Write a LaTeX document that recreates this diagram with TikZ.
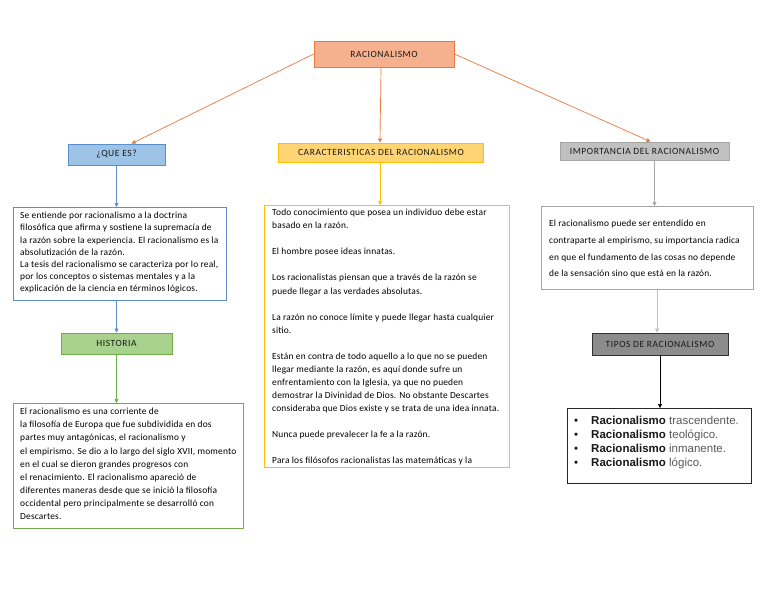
\documentclass[tikz,border=0pt]{standalone}
\usepackage{fontspec}
\setmainfont{Carlito}
\newfontfamily\labelfont[LetterSpace=6]{Carlito}
\newfontfamily\bodyfont[LetterSpace=2]{Carlito}
\newfontfamily\arialfont{Liberation Sans}
\usetikzlibrary{shapes,arrows.meta,positioning}

\definecolor{rootfill}{HTML}{F5B08E}
\definecolor{rootline}{HTML}{E8793F}
\definecolor{bluefill}{HTML}{9DC3E6}
\definecolor{blueline}{HTML}{5B8FCC}
\definecolor{goldfill}{HTML}{FFD473}
\definecolor{goldline}{HTML}{FFC000}
\definecolor{grayfill}{HTML}{C0C0C0}
\definecolor{grayline}{HTML}{A5A5A5}
\definecolor{greenfill}{HTML}{A9D18E}
\definecolor{greenline}{HTML}{70AD47}
\definecolor{darkfill}{HTML}{8C8C8C}
\definecolor{softtext}{HTML}{595959}

\tikzstyle{Title} = [draw, rectangle, inner sep=0pt, line width=0.8pt, text=black!90, font=\labelfont\fontsize{9.5}{11}\selectfont]
\tikzstyle{Frame} = [draw, rectangle, fill=white, anchor=north west, inner sep=0pt, line width=0.8pt]
\tikzstyle{Body}  = [anchor=north west, align=left, inner sep=0pt, text=black]
\tikzstyle{Link}  = [-{Triangle[length=4pt,width=4pt]}, line width=0.7pt]

\begin{document}
\begin{tikzpicture}[x=1pt,y=-1pt]
    \useasboundingbox (0,0) rectangle (768,594);

    % headings
    \node[Title, fill=rootfill,  draw=rootline,  minimum width=140pt, minimum height=26pt] (root)        at (384,54)      {RACIONALISMO};
    \node[Title, fill=bluefill,  draw=blueline,  minimum width=97pt,  minimum height=21pt] (quees)       at (116.5,154.5) {¿QUE ES?};
    \node[Title, fill=goldfill,  draw=goldline,  minimum width=205pt, minimum height=19pt] (carac)       at (381,152.5)   {CARACTERISTICAS DEL RACIONALISMO};
    \node[Title, fill=grayfill,  draw=grayline,  minimum width=169pt, minimum height=18pt] (importancia) at (644.5,151)   {IMPORTANCIA DEL RACIONALISMO};
    \node[Title, fill=greenfill, draw=greenline, minimum width=111pt, minimum height=21pt] (historia)    at (116.5,343.5) {HISTORIA};
    \node[Title, fill=darkfill,  draw=black!80,  minimum width=136pt, minimum height=22pt] (tipos)       at (660,344)     {TIPOS DE RACIONALISMO};

    % text frames
    \node[Frame, draw=blueline,  minimum width=213pt, minimum height=93pt]  (queesinfo)  at (13,207)  {};
    \node[Frame, draw=goldline,  minimum width=245pt, minimum height=262pt] (caracinfo)  at (264,205) {};
    \node[Frame, draw=grayline,  minimum width=212pt, minimum height=83pt]  (importinfo) at (541,206) {};
    \node[Frame, draw=greenline, minimum width=230pt, minimum height=125pt] (histinfo)   at (13,403)  {};
    \node[Frame, draw=black!85,  minimum width=184pt, minimum height=75pt]  (tiposinfo)  at (567,408) {};

    % texts
    \node[Body, font=\bodyfont\fontsize{9.4}{12.2}\selectfont] (queestext) at ([shift={(7,5)}]queesinfo.north west)
        {Se entiende por racionalismo a la doctrina\\
         filosófica que afirma y sostiene la supremacía de\\
         la razón sobre la experiencia. El racionalismo es la\\
         absolutización de la razón.\\
         La tesis del racionalismo se caracteriza por lo real,\\
         por los conceptos o sistemas mentales y a la\\
         explicación de la ciencia en términos lógicos.};

    \begin{scope}
        \clip ([shift={(1,1)}]caracinfo.north west) rectangle ([shift={(-1,-3)}]caracinfo.south east);
        \node[Body, font=\bodyfont\fontsize{9.4}{13.05}\selectfont] (caractext) at ([shift={(8,4)}]caracinfo.north west)
            {Todo conocimiento que posea un individuo debe estar\\
             basado en la razón.\\[13.05pt]
             El hombre posee ideas innatas.\\[13.05pt]
             Los racionalistas piensan que a través de la razón se\\
             puede llegar a las verdades absolutas.\\[13.05pt]
             La razón no conoce límite y puede llegar hasta cualquier\\
             sitio.\\[13.05pt]
             Están en contra de todo aquello a lo que no se pueden\\
             llegar mediante la razón, es aquí donde sufre un\\
             enfrentamiento con la Iglesia, ya que no pueden\\
             demostrar la Divinidad de Dios. No obstante Descartes\\
             consideraba que Dios existe y se trata de una idea innata.\\[13.05pt]
             Nunca puede prevalecer la fe a la razón.\\[13.05pt]
             Para los filósofos racionalistas las matemáticas y la};
    \end{scope}

    \node[Body, font=\bodyfont\fontsize{9.4}{16.7}\selectfont] (importtext) at ([shift={(8,14)}]importinfo.north west)
        {El racionalismo puede ser entendido en\\
         contraparte al empirismo, su importancia radica\\
         en que el fundamento de las cosas no depende\\
         de la sensación sino que está en la razón.};

    \node[Body, font=\bodyfont\fontsize{9.4}{13.1}\selectfont] (histtext) at ([shift={(7,5)}]histinfo.north west)
        {El racionalismo es una corriente de\\
         la filosofía de Europa que fue subdividida en dos\\
         partes muy antagónicas, el racionalismo y\\
         el empirismo. Se dio a lo largo del siglo XVII, momento\\
         en el cual se dieron grandes progresos con\\
         el renacimiento. El racionalismo apareció de\\
         diferentes maneras desde que se inició la filosofía\\
         occidental pero principalmente se desarrolló con\\
         Descartes.};

    \node[Body, font=\arialfont\fontsize{11.5}{14.3}\selectfont, text=black!90] (tipostext) at ([shift={(7,7.5)}]tiposinfo.north west)
        {\makebox[17pt][l]{\textbullet}\textbf{Racionalismo} {\color{softtext}trascendente.}\\
         \makebox[17pt][l]{\textbullet}\textbf{Racionalismo} {\color{softtext}teológico.}\\
         \makebox[17pt][l]{\textbullet}\textbf{Racionalismo} {\color{softtext}inmanente.}\\
         \makebox[17pt][l]{\textbullet}\textbf{Racionalismo} {\color{softtext}lógico.}};

    % connectors
    \draw[Link, rootline] (root.west) to ([xshift=15pt]quees.north);
    \draw[Link, rootline] ([xshift=-3pt]root.south) to ([xshift=-1pt]carac.north);
    \draw[Link, rootline] (root.east) to ([xshift=6pt]importancia.north);
    \draw[Link, blueline] (quees.south) to (quees.south |- queesinfo.north);
    \draw[Link, goldline] ([xshift=-1pt]carac.south) to ([xshift=-1pt]carac.south |- caracinfo.north);
    \draw[Link, grayline] ([xshift=10pt]importancia.south) to ([xshift=10pt]importancia.south |- importinfo.north);
    \draw[Link, blueline] (quees.south |- queesinfo.south) to (historia.north);
    \draw[Link, greenline] (historia.south) to (historia.south |- histinfo.north);
    \draw[Link, grayline!70] ([xshift=-3pt]tipos.north |- importinfo.south) to ([xshift=-3pt]tipos.north);
    \draw[Link, black] (tipos.south) to (tipos.south |- tiposinfo.north);
\end{tikzpicture}
\end{document}
